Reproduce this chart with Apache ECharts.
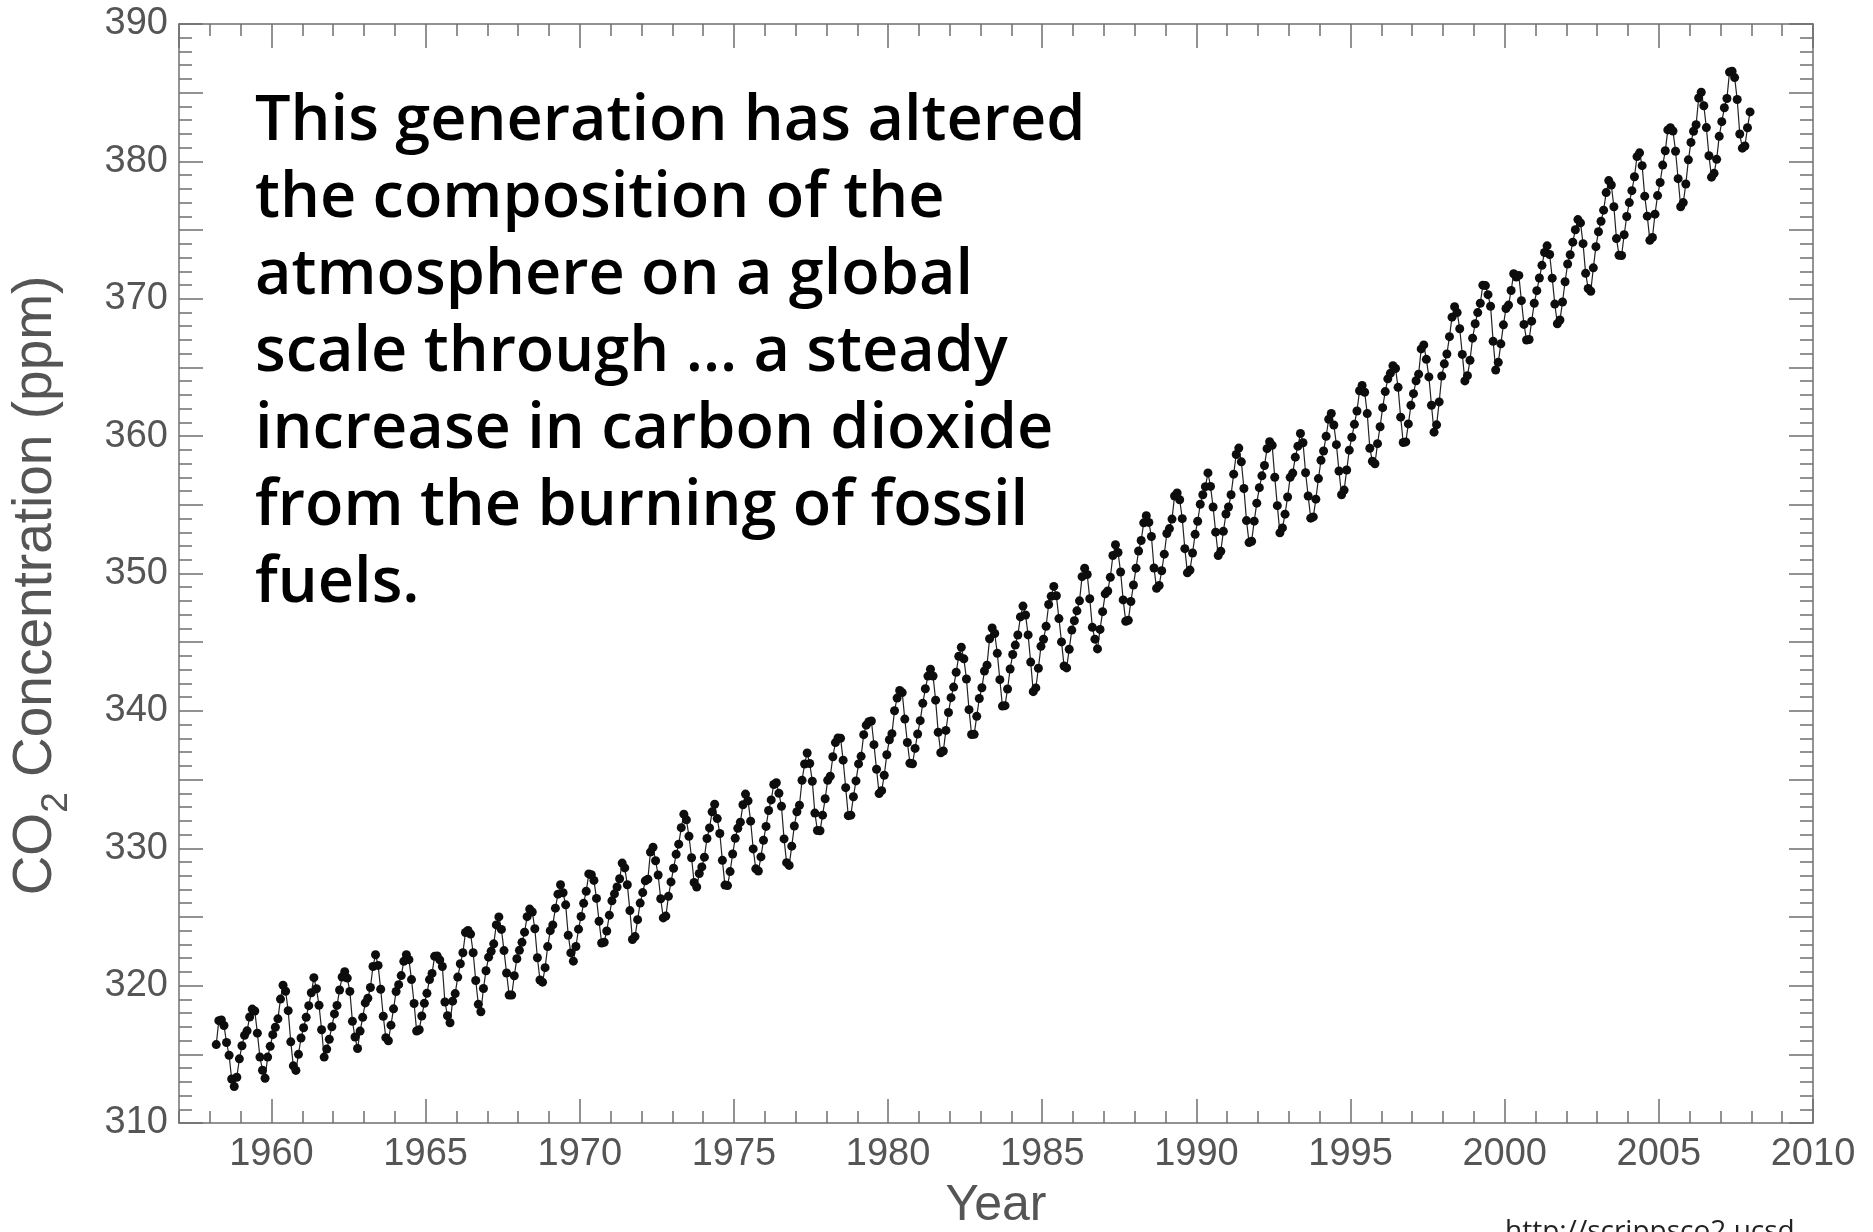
<!DOCTYPE html>
<html>
<head>
<meta charset="utf-8">
<script src="https://cdn.jsdelivr.net/npm/echarts@6/dist/echarts.min.js"></script>
<style>
html,body{margin:0;padding:0;background:#fff;}
#chart{width:1873px;height:1232px;}
</style>
</head>
<body>
<div id="chart"></div>
<script>
// Monthly CO2 concentration (ppm), first value = March 1958
const firstYear = 1958;
const firstMonthIndex = 2; // March (0-based)
const co2_1958_1959 = [315.71, 317.45, 317.50, 317.10, 315.86, 314.93, 313.20, 312.66, 313.33, 314.67,
  315.62, 316.38, 316.71, 317.72, 318.29, 318.15, 316.54, 314.80, 313.84, 313.26, 314.80, 315.58];
const co2_1960s = [
  316.43, 316.97, 317.58, 319.02, 320.03, 319.59, 318.18, 315.91, 314.16, 313.83, 315.00, 316.19,
  316.93, 317.70, 318.54, 319.48, 320.58, 319.77, 318.57, 316.79, 314.80, 315.38, 316.10, 317.01,
  317.94, 318.56, 319.68, 320.63, 321.01, 320.55, 319.58, 317.40, 316.26, 315.42, 316.69, 317.69,
  318.74, 319.08, 319.86, 321.39, 322.25, 321.47, 319.74, 317.77, 316.21, 315.99, 317.12, 318.31,
  319.57, 320.07, 320.73, 321.77, 322.25, 321.89, 320.44, 318.70, 316.70, 316.79, 317.79, 318.71,
  319.44, 320.44, 320.89, 322.13, 322.16, 321.87, 321.39, 318.81, 317.81, 317.30, 318.87, 319.42,
  320.62, 321.59, 322.39, 323.87, 324.01, 323.75, 322.39, 320.37, 318.64, 318.10, 319.79, 321.08,
  322.07, 322.50, 323.04, 324.42, 325.00, 324.09, 322.55, 320.92, 319.31, 319.31, 320.72, 321.96,
  322.57, 323.15, 323.89, 325.02, 325.57, 325.36, 324.14, 322.03, 320.41, 320.25, 321.31, 322.84,
  324.00, 324.42, 325.64, 326.66, 327.34, 326.76, 325.88, 323.67, 322.38, 321.78, 322.85, 324.11];
const co2_1970s = [
  325.03, 325.99, 326.87, 328.13, 328.07, 327.66, 326.35, 324.69, 323.10, 323.16, 323.98, 325.13,
  326.17, 326.68, 327.18, 327.78, 328.92, 328.57, 327.34, 325.46, 323.36, 323.57, 324.80, 326.01,
  326.77, 327.63, 327.75, 329.72, 330.07, 329.09, 328.05, 326.32, 324.93, 325.06, 326.50, 327.55,
  328.54, 329.56, 330.30, 331.50, 332.48, 332.07, 330.87, 329.31, 327.51, 327.18, 328.16, 328.64,
  329.35, 330.71, 331.48, 332.65, 333.20, 332.16, 331.07, 329.12, 327.32, 327.28, 328.30, 329.58,
  330.73, 331.46, 331.90, 333.17, 333.94, 333.45, 331.97, 329.95, 328.50, 328.34, 329.37, 330.58,
  331.59, 332.75, 333.52, 334.64, 334.77, 334.00, 333.06, 330.68, 328.95, 328.75, 330.15, 331.62,
  332.66, 333.13, 334.95, 336.13, 336.93, 336.17, 334.88, 332.56, 331.29, 331.27, 332.41, 333.60,
  334.95, 335.25, 336.66, 337.69, 338.03, 338.01, 336.41, 334.41, 332.37, 332.41, 333.75, 334.90,
  336.14, 336.69, 338.27, 338.96, 339.21, 339.26, 337.54, 335.75, 333.98, 334.19, 335.31, 336.81];
const co2_1980s = [
  337.90, 338.34, 340.01, 340.93, 341.48, 341.33, 339.40, 337.70, 336.19, 336.15, 337.27, 338.32,
  339.29, 340.55, 341.61, 342.53, 343.03, 342.54, 340.78, 338.44, 336.95, 337.08, 338.58, 339.88,
  340.96, 341.73, 342.81, 343.97, 344.63, 343.79, 342.32, 340.09, 338.28, 338.29, 339.60, 340.90,
  341.68, 342.90, 343.33, 345.25, 346.03, 345.63, 344.19, 342.27, 340.35, 340.38, 341.59, 343.05,
  344.10, 344.79, 345.52, 346.84, 347.63, 346.98, 345.53, 343.55, 341.40, 341.67, 343.10, 344.70,
  345.21, 346.16, 347.74, 348.34, 349.06, 348.38, 346.72, 345.02, 343.27, 343.13, 344.49, 345.88,
  346.56, 347.28, 348.01, 349.77, 350.38, 349.93, 348.16, 346.08, 345.22, 344.51, 345.93, 347.22,
  348.52, 348.73, 349.73, 351.31, 352.09, 351.53, 350.11, 348.08, 346.52, 346.59, 347.96, 349.16,
  350.39, 351.64, 352.40, 353.69, 354.21, 353.72, 352.69, 350.40, 348.92, 349.13, 350.20, 351.41,
  352.91, 353.27, 353.96, 355.64, 355.86, 355.37, 353.99, 351.81, 350.05, 350.25, 351.49, 352.85];
const co2_1990s = [
  353.80, 355.04, 355.73, 356.32, 357.32, 356.34, 354.84, 353.01, 351.31, 351.62, 353.07, 354.33,
  354.84, 355.73, 357.23, 358.66, 359.13, 358.13, 356.19, 353.85, 352.25, 352.35, 353.81, 355.12,
  356.25, 357.11, 357.86, 359.09, 359.59, 359.33, 357.01, 354.94, 352.96, 353.32, 354.32, 355.57,
  357.00, 357.31, 358.47, 359.27, 360.19, 359.52, 357.33, 355.64, 354.03, 354.12, 355.41, 356.91,
  358.24, 358.92, 359.99, 361.23, 361.65, 360.81, 359.38, 357.46, 355.73, 356.07, 357.53, 358.98,
  359.92, 360.86, 361.83, 363.30, 363.69, 363.19, 361.64, 359.12, 358.17, 357.99, 359.45, 360.68,
  362.07, 363.24, 364.17, 364.57, 365.13, 364.92, 363.55, 361.38, 359.54, 359.58, 360.89, 362.24,
  363.09, 364.03, 364.51, 366.35, 366.64, 365.59, 364.31, 362.25, 360.29, 360.82, 362.49, 364.38,
  365.26, 365.98, 367.24, 368.66, 369.42, 368.99, 367.82, 365.95, 364.02, 364.40, 365.52, 367.13,
  368.18, 368.99, 369.67, 370.99, 370.96, 370.30, 369.45, 366.90, 364.81, 365.37, 366.72, 368.10];
const co2_2000s = [
  369.29, 369.54, 370.60, 371.82, 371.58, 371.70, 369.86, 368.13, 367.00, 367.03, 368.37, 369.67,
  370.59, 371.51, 372.43, 373.37, 373.85, 373.22, 371.50, 369.61, 368.18, 368.45, 369.76, 371.24,
  372.53, 373.20, 374.12, 375.02, 375.76, 375.52, 374.01, 371.85, 370.75, 370.55, 372.25, 373.79,
  374.88, 375.64, 376.45, 377.73, 378.60, 378.28, 376.70, 374.38, 373.17, 373.15, 374.66, 375.99,
  377.00, 377.87, 378.88, 380.35, 380.62, 379.69, 377.47, 376.01, 374.25, 374.46, 376.16, 377.51,
  378.46, 379.73, 380.77, 382.29, 382.45, 382.21, 380.74, 378.74, 376.70, 377.00, 378.35, 380.11,
  381.38, 382.19, 382.67, 384.61, 385.03, 384.05, 382.46, 380.41, 378.85, 379.13, 380.15, 381.82,
  382.89, 383.90, 384.58, 386.50, 386.56, 386.10, 384.50, 381.99, 380.96, 381.12, 382.45, 383.60];

const xLabelYears = [1960, 1965, 1970, 1975, 1980, 1985, 1990, 1995, 2000, 2005, 2010];
const yLabelValues = [310, 320, 330, 340, 350, 360, 370, 380, 390];
const quoteLines = [
  'This generation has altered',
  'the composition of the',
  'atmosphere on a global',
  'scale through \u2026 a steady',
  'increase in carbon dioxide',
  'from the burning of fossil',
  'fuels.'
];
const sourceText = 'http://scrippsco2.ucsd';

const monthly = [].concat(co2_1958_1959, co2_1960s, co2_1970s, co2_1980s, co2_1990s, co2_2000s);
const seriesData = monthly.map((v, i) => [firstYear + (firstMonthIndex + i + 0.5) / 12, v]);

const axisGray = '#6f6f6f';
const labelGray = '#555555';
const sans = '"Liberation Sans", Arial, Helvetica, sans-serif';
const tickStyle = { color: axisGray, width: 1.5 };

function xMajor(pos, withLabels) {
  return {
    type: 'value', position: pos, min: 1957, max: 2010,
    splitNumber: 10, minInterval: 5, maxInterval: 5,
    axisLine: { show: true, onZero: false, lineStyle: { color: axisGray, width: 1.5 } },
    axisTick: { show: true, inside: true, length: 24, lineStyle: tickStyle },
    axisLabel: {
      show: withLabels, margin: 13, color: labelGray, fontSize: 38, fontFamily: sans,
      showMinLabel: false, showMaxLabel: true,
      formatter: v => xLabelYears.includes(Math.round(v)) ? String(Math.round(v)) : ''
    },
    splitLine: { show: false }
  };
}
function xMinor(pos) {
  return {
    type: 'value', position: pos, min: 1957, max: 2010, interval: 1,
    axisLine: { show: false, onZero: false },
    axisTick: { show: true, inside: true, length: 12, lineStyle: tickStyle },
    axisLabel: { show: false },
    splitLine: { show: false }
  };
}
function yAxisDef(pos, withLabels) {
  return {
    type: 'value', position: pos, min: 310, max: 390, interval: 5,
    axisLine: { show: true, onZero: false, lineStyle: { color: axisGray, width: 1.5 } },
    axisTick: { show: true, inside: true, length: 24, lineStyle: tickStyle },
    minorTick: { show: true, splitNumber: 5, length: 13, lineStyle: tickStyle },
    axisLabel: {
      show: withLabels, margin: 11, color: labelGray, fontSize: 38, fontFamily: sans,
      formatter: v => yLabelValues.includes(Math.round(v)) ? String(Math.round(v)) : ''
    },
    splitLine: { show: false }
  };
}

const xBottom = xMajor('bottom', true);
xBottom.name = 'Year';
xBottom.nameLocation = 'middle';
xBottom.nameGap = 58;
xBottom.nameTextStyle = { color: labelGray, fontSize: 50, fontFamily: sans };

const yLeft = yAxisDef('left', true);
yLeft.name = '{a|CO}{s|2}{a| Concentration (ppm)}';
yLeft.nameLocation = 'middle';
yLeft.nameRotate = 90;
yLeft.nameGap = 104;
yLeft.nameTextStyle = {
  color: labelGray, fontSize: 55, fontFamily: sans, padding: [0, 24, 0, 0],
  rich: {
    a: { fontSize: 55, lineHeight: 78, fontFamily: sans, color: labelGray },
    s: { fontSize: 37, lineHeight: 37, verticalAlign: 'bottom', fontFamily: sans, color: labelGray }
  }
};

const chart = echarts.init(document.getElementById('chart'), null, { renderer: 'canvas' });
chart.setOption({
  animation: false,
  backgroundColor: '#ffffff',
  grid: { left: 179, right: 60, top: 24, bottom: 109, containLabel: false, outerBoundsMode: 'none' },
  xAxis: [xBottom, xMinor('bottom'), xMajor('top', false), xMinor('top')],
  yAxis: [yLeft, yAxisDef('right', false)],
  series: [{
    type: 'line', xAxisIndex: 0, yAxisIndex: 0, data: seriesData,
    symbol: 'circle', symbolSize: 9, showSymbol: true,
    itemStyle: { color: '#0d0d0d' },
    lineStyle: { color: '#222222', width: 1.2 },
    silent: true, z: 3
  }],
  graphic: [
    {
      type: 'text', left: 255, top: 84, z: 10,
      style: {
        text: quoteLines.join('\n'), fill: '#000000',
        fontFamily: '"Open Sans", "Noto Sans", sans-serif', fontWeight: 600, fontSize: 63, lineHeight: 77
      }
    },
    {
      type: 'text', left: 1505, top: 1218, z: 10,
      style: {
        text: sourceText, fill: '#222222',
        fontFamily: '"Open Sans", "Noto Sans", sans-serif', fontSize: 28
      }
    }
  ]
});
</script>
</body>
</html>
